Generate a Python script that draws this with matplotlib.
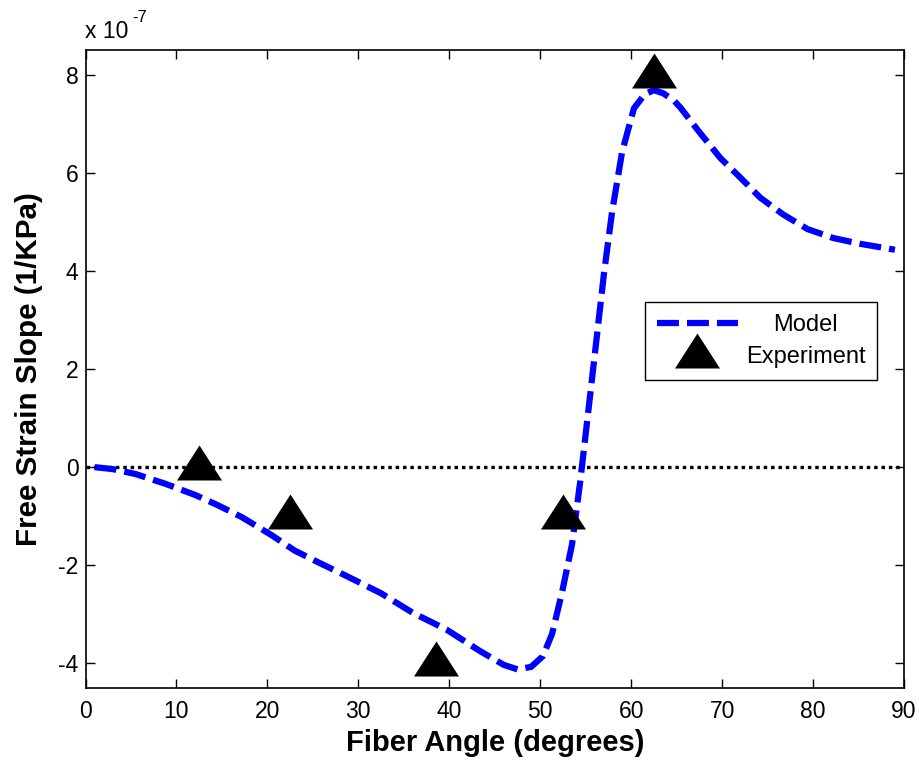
import matplotlib
matplotlib.use("Agg")
import matplotlib.pyplot as plt

plt.rcParams['font.family'] = ['Liberation Sans', 'DejaVu Sans']
plt.rcParams['lines.scale_dashes'] = False

# Model curve (values in units of 1e-7 1/KPa)
model_angle = [1, 3, 5.5, 8.8, 12.1, 14.6, 17.2, 20.5, 23, 25.6, 28.5, 32.5,
               36, 39.7, 43.4, 46, 47.5, 49, 50.3, 51.3, 52.4, 53.5, 54.4,
               55.2, 56.1, 57.0, 57.9, 59.0, 60.3, 61.5, 62.5, 63.5, 64.7,
               65.4, 67.4, 69.8, 72, 74.2, 76.7, 79.4, 82.2, 85.2, 89]
model_slope = [0, -0.04, -0.14, -0.34, -0.57, -0.78, -1.02, -1.39, -1.7,
               -1.94, -2.2, -2.57, -2.97, -3.31, -3.75, -4.03, -4.12, -4.07,
               -3.85, -3.4, -2.55, -1.57, -0.29, 1.0, 2.46, 3.93, 5.2, 6.42,
               7.31, 7.6, 7.68, 7.62, 7.47, 7.33, 6.85, 6.3, 5.9, 5.49, 5.15,
               4.85, 4.67, 4.55, 4.43]

# Experiment points
exp_angle = [12.5, 22.5, 38.5, 52.5, 62.5]
exp_slope = [0, -1, -4, -1, 8]

x_ticks = [0, 10, 20, 30, 40, 50, 60, 70, 80, 90]
y_ticks = [-4, -2, 0, 2, 4, 6, 8]
exponent_label = "x 10"
exponent_power = "-7"

W, H = 920, 761
fig = plt.figure(figsize=(W / 100, H / 100), dpi=100)
ax = fig.add_axes([85.5 / W, 1 - 688 / H, (904 - 85.5) / W, (688 - 50) / H])

# zero reference line
ax.plot([0, 90], [0, 0], color='black', linestyle=(0, (2.5, 2.8)),
        linewidth=2.4, dash_capstyle='butt', zorder=1)

line, = ax.plot(model_angle, model_slope, color=(0, 0, 1), linewidth=4.5,
                linestyle=(0, (15.8, 5.8)), dash_capstyle='butt', zorder=2,
                label='Model')

tri = [(-1, -0.578), (1, -0.578), (0, 0.978)]
pts, = ax.plot(exp_angle, exp_slope, linestyle='none', marker=tri,
               markersize=32.4, color='black', markeredgewidth=0, zorder=3,
               label='Experiment')

ax.set_xlim(0, 90)
ax.set_ylim(-4.5, 8.5)
ax.set_xticks(x_ticks)
ax.set_yticks(y_ticks)
ax.set_xticklabels([str(v) for v in x_ticks])
ax.set_yticklabels([str(v) for v in y_ticks])
ax.tick_params(direction='in', length=6.5, width=1.0, top=True, right=True,
               labelsize=16.5, colors='black')
ax.tick_params(axis='x', pad=9)
ax.tick_params(axis='y', pad=5)
for s in ax.spines.values():
    s.set_linewidth(1.2)

ax.set_xlabel('Fiber Angle (degrees)', fontsize=21, fontweight='bold', labelpad=4)
ax.set_ylabel('Free Strain Slope (1/KPa)', fontsize=21.3, fontweight='bold', labelpad=11)

fig.text(85 / W, 1 - 38 / H, exponent_label, fontsize=16.5, ha='left', va='baseline')
fig.text(132 / W, 1 - 22 / H, exponent_power, fontsize=12, ha='left', va='baseline')

leg = ax.legend(handles=[line, pts], loc='upper left',
                bbox_to_anchor=((645 - 85.5) / 818.5, (688 - 302) / 638),
                fontsize=17, frameon=True, fancybox=False, framealpha=1,
                edgecolor='black', handlelength=3.43, handletextpad=0.34,
                borderpad=0.5, labelspacing=0.45, borderaxespad=0,
                markerscale=1.0)
leg.get_frame().set_linewidth(1.0)

# center legend texts like the reference
fig.canvas.draw()
r = fig.canvas.get_renderer()
texts = leg.get_texts()
wmax = max(t.get_window_extent(r).width for t in texts)
for t in texts:
    w = t.get_window_extent(r).width
    t.set_position(((wmax - w) / 2, 0))

fig.savefig('out.png', dpi=100)
